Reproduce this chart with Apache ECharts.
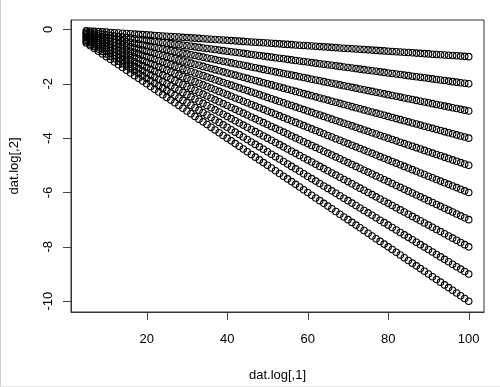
<!DOCTYPE html>
<html>
<head>
<meta charset="utf-8">
<script src="https://cdn.jsdelivr.net/npm/echarts@6/dist/echarts.min.js"></script>
<style>html,body{margin:0;padding:0;background:#fff}#c{width:500px;height:387px}</style>
</head>
<body>
<div id="c"></div>
<script>
// x values (dat.log[,1])
var xVals = [5,6,7,8,9,
10,11,12,13,14,15,16,17,18,19,
20,21,22,23,24,25,26,27,28,29,
30,31,32,33,34,35,36,37,38,39,
40,41,42,43,44,45,46,47,48,49,
50,51,52,53,54,55,56,57,58,59,
60,61,62,63,64,65,66,67,68,69,
70,71,72,73,74,75,76,77,78,79,
80,81,82,83,84,85,86,87,88,89,
90,91,92,93,94,95,96,97,98,99,
100];

// y values (dat.log[,2]) — one array per fan line
var y1 = [-0.05,-0.06,-0.07,-0.08,-0.09,
-0.10,-0.11,-0.12,-0.13,-0.14,-0.15,-0.16,-0.17,-0.18,-0.19,
-0.20,-0.21,-0.22,-0.23,-0.24,-0.25,-0.26,-0.27,-0.28,-0.29,
-0.30,-0.31,-0.32,-0.33,-0.34,-0.35,-0.36,-0.37,-0.38,-0.39,
-0.40,-0.41,-0.42,-0.43,-0.44,-0.45,-0.46,-0.47,-0.48,-0.49,
-0.50,-0.51,-0.52,-0.53,-0.54,-0.55,-0.56,-0.57,-0.58,-0.59,
-0.60,-0.61,-0.62,-0.63,-0.64,-0.65,-0.66,-0.67,-0.68,-0.69,
-0.70,-0.71,-0.72,-0.73,-0.74,-0.75,-0.76,-0.77,-0.78,-0.79,
-0.80,-0.81,-0.82,-0.83,-0.84,-0.85,-0.86,-0.87,-0.88,-0.89,
-0.90,-0.91,-0.92,-0.93,-0.94,-0.95,-0.96,-0.97,-0.98,-0.99,
-1.00];
var y2 = [-0.10,-0.12,-0.14,-0.16,-0.18,
-0.20,-0.22,-0.24,-0.26,-0.28,-0.30,-0.32,-0.34,-0.36,-0.38,
-0.40,-0.42,-0.44,-0.46,-0.48,-0.50,-0.52,-0.54,-0.56,-0.58,
-0.60,-0.62,-0.64,-0.66,-0.68,-0.70,-0.72,-0.74,-0.76,-0.78,
-0.80,-0.82,-0.84,-0.86,-0.88,-0.90,-0.92,-0.94,-0.96,-0.98,
-1.00,-1.02,-1.04,-1.06,-1.08,-1.10,-1.12,-1.14,-1.16,-1.18,
-1.20,-1.22,-1.24,-1.26,-1.28,-1.30,-1.32,-1.34,-1.36,-1.38,
-1.40,-1.42,-1.44,-1.46,-1.48,-1.50,-1.52,-1.54,-1.56,-1.58,
-1.60,-1.62,-1.64,-1.66,-1.68,-1.70,-1.72,-1.74,-1.76,-1.78,
-1.80,-1.82,-1.84,-1.86,-1.88,-1.90,-1.92,-1.94,-1.96,-1.98,
-2.00];
var y3 = [-0.15,-0.18,-0.21,-0.24,-0.27,
-0.30,-0.33,-0.36,-0.39,-0.42,-0.45,-0.48,-0.51,-0.54,-0.57,
-0.60,-0.63,-0.66,-0.69,-0.72,-0.75,-0.78,-0.81,-0.84,-0.87,
-0.90,-0.93,-0.96,-0.99,-1.02,-1.05,-1.08,-1.11,-1.14,-1.17,
-1.20,-1.23,-1.26,-1.29,-1.32,-1.35,-1.38,-1.41,-1.44,-1.47,
-1.50,-1.53,-1.56,-1.59,-1.62,-1.65,-1.68,-1.71,-1.74,-1.77,
-1.80,-1.83,-1.86,-1.89,-1.92,-1.95,-1.98,-2.01,-2.04,-2.07,
-2.10,-2.13,-2.16,-2.19,-2.22,-2.25,-2.28,-2.31,-2.34,-2.37,
-2.40,-2.43,-2.46,-2.49,-2.52,-2.55,-2.58,-2.61,-2.64,-2.67,
-2.70,-2.73,-2.76,-2.79,-2.82,-2.85,-2.88,-2.91,-2.94,-2.97,
-3.00];
var y4 = [-0.20,-0.24,-0.28,-0.32,-0.36,
-0.40,-0.44,-0.48,-0.52,-0.56,-0.60,-0.64,-0.68,-0.72,-0.76,
-0.80,-0.84,-0.88,-0.92,-0.96,-1.00,-1.04,-1.08,-1.12,-1.16,
-1.20,-1.24,-1.28,-1.32,-1.36,-1.40,-1.44,-1.48,-1.52,-1.56,
-1.60,-1.64,-1.68,-1.72,-1.76,-1.80,-1.84,-1.88,-1.92,-1.96,
-2.00,-2.04,-2.08,-2.12,-2.16,-2.20,-2.24,-2.28,-2.32,-2.36,
-2.40,-2.44,-2.48,-2.52,-2.56,-2.60,-2.64,-2.68,-2.72,-2.76,
-2.80,-2.84,-2.88,-2.92,-2.96,-3.00,-3.04,-3.08,-3.12,-3.16,
-3.20,-3.24,-3.28,-3.32,-3.36,-3.40,-3.44,-3.48,-3.52,-3.56,
-3.60,-3.64,-3.68,-3.72,-3.76,-3.80,-3.84,-3.88,-3.92,-3.96,
-4.00];
var y5 = [-0.25,-0.30,-0.35,-0.40,-0.45,
-0.50,-0.55,-0.60,-0.65,-0.70,-0.75,-0.80,-0.85,-0.90,-0.95,
-1.00,-1.05,-1.10,-1.15,-1.20,-1.25,-1.30,-1.35,-1.40,-1.45,
-1.50,-1.55,-1.60,-1.65,-1.70,-1.75,-1.80,-1.85,-1.90,-1.95,
-2.00,-2.05,-2.10,-2.15,-2.20,-2.25,-2.30,-2.35,-2.40,-2.45,
-2.50,-2.55,-2.60,-2.65,-2.70,-2.75,-2.80,-2.85,-2.90,-2.95,
-3.00,-3.05,-3.10,-3.15,-3.20,-3.25,-3.30,-3.35,-3.40,-3.45,
-3.50,-3.55,-3.60,-3.65,-3.70,-3.75,-3.80,-3.85,-3.90,-3.95,
-4.00,-4.05,-4.10,-4.15,-4.20,-4.25,-4.30,-4.35,-4.40,-4.45,
-4.50,-4.55,-4.60,-4.65,-4.70,-4.75,-4.80,-4.85,-4.90,-4.95,
-5.00];
var y6 = [-0.30,-0.36,-0.42,-0.48,-0.54,
-0.60,-0.66,-0.72,-0.78,-0.84,-0.90,-0.96,-1.02,-1.08,-1.14,
-1.20,-1.26,-1.32,-1.38,-1.44,-1.50,-1.56,-1.62,-1.68,-1.74,
-1.80,-1.86,-1.92,-1.98,-2.04,-2.10,-2.16,-2.22,-2.28,-2.34,
-2.40,-2.46,-2.52,-2.58,-2.64,-2.70,-2.76,-2.82,-2.88,-2.94,
-3.00,-3.06,-3.12,-3.18,-3.24,-3.30,-3.36,-3.42,-3.48,-3.54,
-3.60,-3.66,-3.72,-3.78,-3.84,-3.90,-3.96,-4.02,-4.08,-4.14,
-4.20,-4.26,-4.32,-4.38,-4.44,-4.50,-4.56,-4.62,-4.68,-4.74,
-4.80,-4.86,-4.92,-4.98,-5.04,-5.10,-5.16,-5.22,-5.28,-5.34,
-5.40,-5.46,-5.52,-5.58,-5.64,-5.70,-5.76,-5.82,-5.88,-5.94,
-6.00];
var y7 = [-0.35,-0.42,-0.49,-0.56,-0.63,
-0.70,-0.77,-0.84,-0.91,-0.98,-1.05,-1.12,-1.19,-1.26,-1.33,
-1.40,-1.47,-1.54,-1.61,-1.68,-1.75,-1.82,-1.89,-1.96,-2.03,
-2.10,-2.17,-2.24,-2.31,-2.38,-2.45,-2.52,-2.59,-2.66,-2.73,
-2.80,-2.87,-2.94,-3.01,-3.08,-3.15,-3.22,-3.29,-3.36,-3.43,
-3.50,-3.57,-3.64,-3.71,-3.78,-3.85,-3.92,-3.99,-4.06,-4.13,
-4.20,-4.27,-4.34,-4.41,-4.48,-4.55,-4.62,-4.69,-4.76,-4.83,
-4.90,-4.97,-5.04,-5.11,-5.18,-5.25,-5.32,-5.39,-5.46,-5.53,
-5.60,-5.67,-5.74,-5.81,-5.88,-5.95,-6.02,-6.09,-6.16,-6.23,
-6.30,-6.37,-6.44,-6.51,-6.58,-6.65,-6.72,-6.79,-6.86,-6.93,
-7.00];
var y8 = [-0.40,-0.48,-0.56,-0.64,-0.72,
-0.80,-0.88,-0.96,-1.04,-1.12,-1.20,-1.28,-1.36,-1.44,-1.52,
-1.60,-1.68,-1.76,-1.84,-1.92,-2.00,-2.08,-2.16,-2.24,-2.32,
-2.40,-2.48,-2.56,-2.64,-2.72,-2.80,-2.88,-2.96,-3.04,-3.12,
-3.20,-3.28,-3.36,-3.44,-3.52,-3.60,-3.68,-3.76,-3.84,-3.92,
-4.00,-4.08,-4.16,-4.24,-4.32,-4.40,-4.48,-4.56,-4.64,-4.72,
-4.80,-4.88,-4.96,-5.04,-5.12,-5.20,-5.28,-5.36,-5.44,-5.52,
-5.60,-5.68,-5.76,-5.84,-5.92,-6.00,-6.08,-6.16,-6.24,-6.32,
-6.40,-6.48,-6.56,-6.64,-6.72,-6.80,-6.88,-6.96,-7.04,-7.12,
-7.20,-7.28,-7.36,-7.44,-7.52,-7.60,-7.68,-7.76,-7.84,-7.92,
-8.00];
var y9 = [-0.45,-0.54,-0.63,-0.72,-0.81,
-0.90,-0.99,-1.08,-1.17,-1.26,-1.35,-1.44,-1.53,-1.62,-1.71,
-1.80,-1.89,-1.98,-2.07,-2.16,-2.25,-2.34,-2.43,-2.52,-2.61,
-2.70,-2.79,-2.88,-2.97,-3.06,-3.15,-3.24,-3.33,-3.42,-3.51,
-3.60,-3.69,-3.78,-3.87,-3.96,-4.05,-4.14,-4.23,-4.32,-4.41,
-4.50,-4.59,-4.68,-4.77,-4.86,-4.95,-5.04,-5.13,-5.22,-5.31,
-5.40,-5.49,-5.58,-5.67,-5.76,-5.85,-5.94,-6.03,-6.12,-6.21,
-6.30,-6.39,-6.48,-6.57,-6.66,-6.75,-6.84,-6.93,-7.02,-7.11,
-7.20,-7.29,-7.38,-7.47,-7.56,-7.65,-7.74,-7.83,-7.92,-8.01,
-8.10,-8.19,-8.28,-8.37,-8.46,-8.55,-8.64,-8.73,-8.82,-8.91,
-9.00];
var y10 = [-0.5,-0.6,-0.7,-0.8,-0.9,
-1.0,-1.1,-1.2,-1.3,-1.4,-1.5,-1.6,-1.7,-1.8,-1.9,
-2.0,-2.1,-2.2,-2.3,-2.4,-2.5,-2.6,-2.7,-2.8,-2.9,
-3.0,-3.1,-3.2,-3.3,-3.4,-3.5,-3.6,-3.7,-3.8,-3.9,
-4.0,-4.1,-4.2,-4.3,-4.4,-4.5,-4.6,-4.7,-4.8,-4.9,
-5.0,-5.1,-5.2,-5.3,-5.4,-5.5,-5.6,-5.7,-5.8,-5.9,
-6.0,-6.1,-6.2,-6.3,-6.4,-6.5,-6.6,-6.7,-6.8,-6.9,
-7.0,-7.1,-7.2,-7.3,-7.4,-7.5,-7.6,-7.7,-7.8,-7.9,
-8.0,-8.1,-8.2,-8.3,-8.4,-8.5,-8.6,-8.7,-8.8,-8.9,
-9.0,-9.1,-9.2,-9.3,-9.4,-9.5,-9.6,-9.7,-9.8,-9.9,
-10.0];

var xTicks = [20, 40, 60, 80, 100];
var yTicks = [0, -2, -4, -6, -8, -10];
var xTitle = 'dat.log[,1]';
var yTitle = 'dat.log[,2]';

var ySeries = [y1, y2, y3, y4, y5, y6, y7, y8, y9, y10];

// R-style axis range: data range extended by 4% on each side
var allY = [].concat.apply([], ySeries);
var xLo = Math.min.apply(null, xVals), xHi = Math.max.apply(null, xVals);
var yLo = Math.min.apply(null, allY), yHi = Math.max.apply(null, allY);
var xPad = (xHi - xLo) * 0.04, yPad = (yHi - yLo) * 0.04;
var xMin = xLo - xPad, xMax = xHi + xPad, yMin = yLo - yPad, yMax = yHi + yPad;

var FONT = '"Liberation Sans", Arial, Helvetica, sans-serif';
var TICK_LEN = 8;
var TICK_STYLE = { stroke: '#444', lineWidth: 1 };

var series = ySeries.map(function (ys) {
  return {
    type: 'scatter',
    data: xVals.map(function (x, i) { return [x, ys[i]]; }),
    symbol: 'circle',
    symbolSize: 6.5,
    itemStyle: { color: 'rgba(0,0,0,0)', borderColor: '#000', borderWidth: 1.1, opacity: 1 },
    emphasis: { disabled: true },
    silent: true
  };
});

var frame = [
  { type: 'line', shape: { x1: 0.5, y1: 0, x2: 0.5, y2: 387 }, style: { stroke: '#d0d0d0', lineWidth: 1 }, silent: true },
  { type: 'line', shape: { x1: 0, y1: 386.5, x2: 500, y2: 386.5 }, style: { stroke: '#e4e4e4', lineWidth: 1 }, silent: true }
];

var chart = echarts.init(document.getElementById('c'));
chart.setOption({
  animation: false,
  grid: { left: 70, right: 16, top: 20, bottom: 74, show: true, borderColor: '#333', borderWidth: 1 },
  xAxis: {
    type: 'value',
    min: xMin, max: xMax,
    name: xTitle, nameLocation: 'middle', nameGap: 57,
    nameTextStyle: { color: '#000', fontSize: 13, fontFamily: FONT },
    axisLine: { show: true, onZero: false, lineStyle: { color: '#333', width: 1 } },
    splitLine: { show: false },
    axisTick: { show: false },
    axisLabel: { customValues: xTicks, margin: 21, color: '#000', fontSize: 13, fontFamily: FONT }
  },
  yAxis: {
    type: 'value',
    min: yMin, max: yMax,
    name: yTitle, nameLocation: 'middle', nameGap: 50, nameRotate: 90,
    nameTextStyle: { color: '#000', fontSize: 13, fontFamily: FONT },
    axisLine: { show: true, onZero: false, lineStyle: { color: '#333', width: 1 } },
    splitLine: { show: false },
    axisTick: { show: false },
    axisLabel: { customValues: yTicks, margin: 16, rotate: 90, color: '#000', fontSize: 13, fontFamily: FONT }
  },
  graphic: frame,
  series: series
});

// Tick marks placed through the chart's own axis scales
var ticks = [];
var axisBottom = Math.round(chart.convertToPixel({ yAxisIndex: 0 }, yMin));
var axisLeft = Math.round(chart.convertToPixel({ xAxisIndex: 0 }, xMin));
xTicks.forEach(function (v) {
  var px = Math.round(chart.convertToPixel({ xAxisIndex: 0 }, v)) + 0.5;
  ticks.push({ type: 'line', silent: true, shape: { x1: px, y1: axisBottom, x2: px, y2: axisBottom + TICK_LEN }, style: TICK_STYLE });
});
yTicks.forEach(function (v) {
  var py = Math.round(chart.convertToPixel({ yAxisIndex: 0 }, v)) + 0.5;
  ticks.push({ type: 'line', silent: true, shape: { x1: axisLeft - TICK_LEN, y1: py, x2: axisLeft, y2: py }, style: TICK_STYLE });
});
chart.setOption({ graphic: frame.concat(ticks) });
</script>
</body>
</html>
